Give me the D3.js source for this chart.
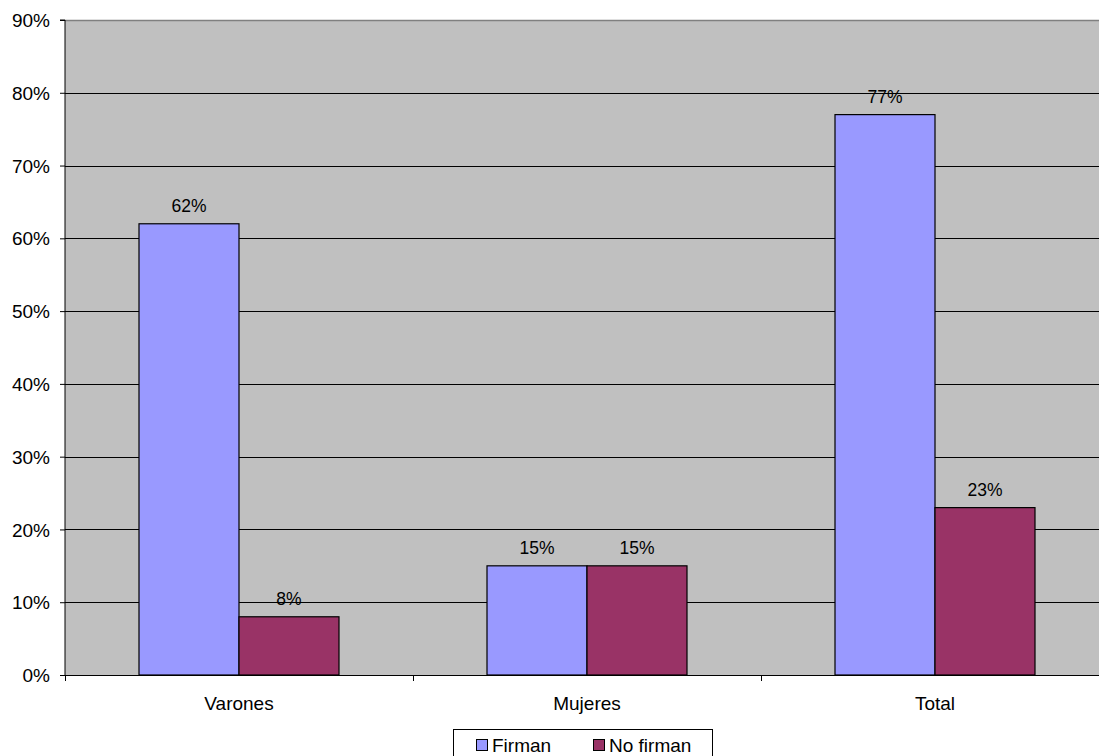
<!DOCTYPE html>
<html><head><meta charset="utf-8">
<script src="https://cdn.jsdelivr.net/npm/d3@7"></script>
<style>body{margin:0;background:#fff;overflow:hidden}svg{display:block}text{font-family:"Liberation Sans",Arial,sans-serif;fill:#000}</style>
</head><body><svg id="c" width="1099" height="756"></svg>
<script>
const categories = ["Varones", "Mujeres", "Total"];
const seriesNames = ["Firman", "No firman"];
const firman = [62, 15, 77];
const noFirman = [8, 15, 23];
const yTicks = [0, 10, 20, 30, 40, 50, 60, 70, 80, 90];
const colors = ["#9999FF", "#993366"];

const svg = d3.select("#c");
const L = 65, R = 1109, T = 20, B = 675;
const x = d3.scaleBand().domain(categories).range([L, R]).padding(0);
const y = d3.scaleLinear().domain([0, 90]).range([B, T]);
const inner = d3.scaleBand().domain(seriesNames).range([0, x.bandwidth() * 0.5747]).padding(0);
const off = (x.bandwidth() - x.bandwidth() * 0.5747) / 2;

svg.append("rect").attr("x", L).attr("y", T).attr("width", R - L).attr("height", B - T).attr("fill", "#C0C0C0");
svg.append("line").attr("x1", L).attr("x2", R).attr("y1", T + 0.5).attr("y2", T + 0.5).attr("stroke", "#808080").attr("stroke-width", 1.5);
svg.append("g").selectAll("line").data(yTicks.filter(d => d > 0 && d < 90)).join("line")
  .attr("x1", L).attr("x2", R).attr("y1", d => Math.round(y(d)) + 0.5).attr("y2", d => Math.round(y(d)) + 0.5)
  .attr("stroke", "#000").attr("stroke-width", 1);

const data = [];
categories.forEach((c, i) => {
  data.push({c, s: seriesNames[0], v: firman[i], col: colors[0]});
  data.push({c, s: seriesNames[1], v: noFirman[i], col: colors[1]});
});
svg.append("g").selectAll("rect").data(data).join("rect")
  .attr("x", d => x(d.c) + off + inner(d.s))
  .attr("y", d => y(d.v))
  .attr("width", inner.bandwidth())
  .attr("height", d => B - y(d.v))
  .attr("fill", d => d.col).attr("stroke", "#000").attr("stroke-width", 1.2);
svg.append("g").selectAll("text").data(data).join("text")
  .attr("x", d => x(d.c) + off + inner(d.s) + inner.bandwidth() / 2)
  .attr("y", d => y(d.v) - 12)
  .attr("text-anchor", "middle").attr("font-size", 17.5)
  .text(d => d.v + "%");

const yAxis = d3.axisLeft(y).tickValues(yTicks).tickSize(5).tickFormat(d => d + "%");
const ga = svg.append("g").attr("transform", `translate(${L},0)`).call(yAxis);
ga.select(".domain").attr("stroke", "#000").attr("d", `M-5,${T}H0V${B}`);
ga.selectAll(".tick line").attr("stroke", "#000");
ga.selectAll(".tick text").attr("font-size", 19).attr("x", -15).attr("dy", "0.35em").style("font-family", '"Liberation Sans",Arial,sans-serif');

svg.append("line").attr("x1", L).attr("x2", R).attr("y1", B + 0.5).attr("y2", B + 0.5).attr("stroke", "#000").attr("stroke-width", 1.2);
const bounds = categories.map(c => x(c)).concat([R]);
svg.append("g").selectAll("line").data(bounds).join("line")
  .attr("x1", d => Math.round(d) + 0.5).attr("x2", d => Math.round(d) + 0.5)
  .attr("y1", B).attr("y2", B + 6).attr("stroke", "#000");
svg.append("g").selectAll("text").data(categories).join("text")
  .attr("x", d => x(d) + x.bandwidth() / 2).attr("y", 710)
  .attr("text-anchor", "middle").attr("font-size", 19).text(d => d);

const lg = svg.append("g");
lg.append("rect").attr("x", 453.5).attr("y", 729.5).attr("width", 259).attr("height", 40).attr("fill", "#fff").attr("stroke", "#000");
const lx = [476, 593];
seriesNames.forEach((s, i) => {
  lg.append("rect").attr("x", lx[i] + 0.5).attr("y", 739.5).attr("width", 11).attr("height", 11).attr("fill", colors[i]).attr("stroke", "#000");
  lg.append("text").attr("x", lx[i] + 16).attr("y", 752).attr("font-size", 19).text(s);
});
</script></body></html>
